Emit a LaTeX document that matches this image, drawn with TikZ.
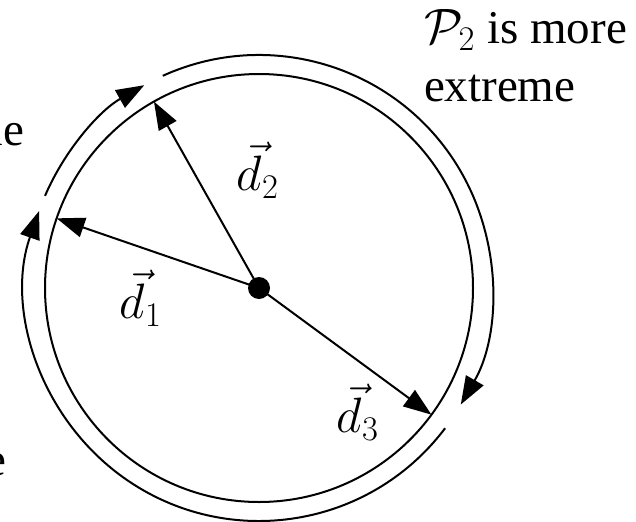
\documentclass[tikz,border=0pt]{standalone}
\usepackage{fontspec}
\setmainfont{Liberation Serif}
\usepackage{amsmath}
\usetikzlibrary{arrows.meta}

\tikzset{
  dot/.style={circle,fill=black,inner sep=0pt,minimum size=11pt},
  vec/.style={->},
  lbl/.style={inner sep=0pt,font=\fontsize{23.5pt}{29pt}\selectfont}
}

\begin{document}
\begin{tikzpicture}[x=0.5pt,y=0.5pt,line width=1pt,>={Triangle[length=14pt,width=10pt]}]
  \useasboundingbox (0,0) rectangle (636,521);
  \coordinate (c) at (259,233);
  % inner circle
  \draw (c) circle[radius=214];
  % outer arcs, clockwise
  \draw[->] ([shift={(c)}]-37:233) arc[start angle=-37,end angle=-199.3,radius=233];
  \draw[->] ([shift={(c)}]156.7:233) arc[start angle=156.7,end angle=119.5,radius=233];
  \draw[->] ([shift={(c)}]114.4:233) arc[start angle=114.4,end angle=-30,radius=233];
  % vectors
  \node[dot] (o) at (c) {};
  \coordinate (t1) at ([shift={(c)}]161:214);
  \coordinate (t2) at ([shift={(c)}]119.4:214);
  \coordinate (t3) at ([shift={(c)}]-36.3:214);
  \draw[vec] (o.center) -- (t1);
  \draw[vec] (o.center) -- (t2);
  \draw[vec] (o.center) -- (t3);
  \node[lbl] (l1) at (141,223) {$\vec{d}_1$};
  \node[lbl] (l2) at (258,351) {$\vec{d}_2$};
  \node[lbl] (l3) at (358,109) {$\vec{d}_3$};
  % texts
  \node[lbl,anchor=base west] (p2) at (423,478) {$\mathcal{P}_2$ is more};
  \node[lbl,anchor=base west] (p2b) at (423,420) {extreme};
  \node[lbl,anchor=base east] (p1) at (25,376) {extreme};
  \node[lbl,anchor=base east] (p3) at (7,46) {more};
\end{tikzpicture}
\end{document}
